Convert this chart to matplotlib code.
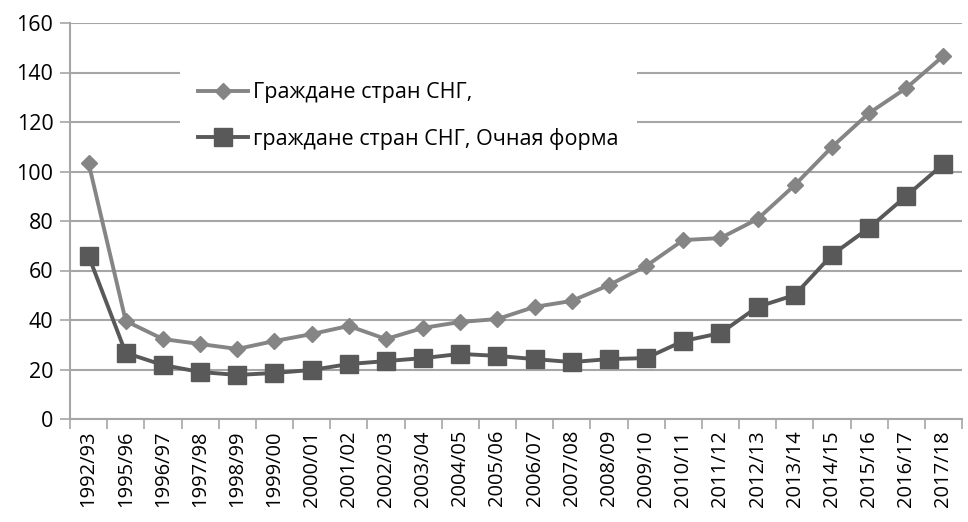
import matplotlib
matplotlib.use('Agg')
import matplotlib.pyplot as plt

years = ['1992/93', '1995/96', '1996/97', '1997/98', '1998/99', '1999/00',
         '2000/01', '2001/02', '2002/03', '2003/04', '2004/05', '2005/06',
         '2006/07', '2007/08', '2008/09', '2009/10', '2010/11', '2011/12',
         '2012/13', '2013/14', '2014/15', '2015/16', '2016/17', '2017/18']
cis_total = [103.4, 39.6, 32.3, 30.3, 28.3, 31.5, 34.3, 37.6, 32.3, 36.8,
             39.2, 40.4, 45.3, 47.7, 54.1, 61.8, 72.3, 73.1, 80.8, 94.5,
             109.9, 123.6, 133.7, 146.7]
cis_fulltime = [65.9, 26.7, 21.8, 19.0, 17.8, 18.6, 19.8, 22.2, 23.4, 24.6,
                26.3, 25.5, 24.2, 23.0, 24.2, 24.6, 31.5, 34.7, 45.3, 50.1,
                66.3, 77.2, 90.1, 103.0]
label_total = 'Граждане стран СНГ,'
label_fulltime = 'граждане стран СНГ, Очная форма'

plt.rcParams['font.family'] = ['Open Sans', 'DejaVu Sans']

fig = plt.figure(figsize=(9.68, 5.22), dpi=100)
ax = fig.add_axes([70/968, 1 - 419/522, 892/968, 396/522])

x = list(range(len(years)))
ax.plot(x, cis_total, color='#858585', lw=2.8, marker='D', ms=8.5,
        label=label_total, zorder=3)
ax.plot(x, cis_fulltime, color='#595959', lw=2.8, marker='s', ms=13,
        label=label_fulltime, zorder=3)

ax.set_ylim(0, 160)
ax.set_yticks(range(0, 161, 20))
ax.set_xlim(-0.5, len(years) - 0.5)
ax.set_xticks(x)
ax.set_xticklabels(years, rotation=90, fontsize=14.5)
ax.set_xticks([i - 0.5 for i in range(len(years) + 1)], minor=True)
ax.tick_params(axis='x', which='major', length=0, pad=8)
ax.tick_params(axis='x', which='minor', length=7, color='#a6a6a6', width=1.2)
ax.tick_params(axis='y', length=7, color='#a6a6a6', width=1.2, labelsize=15.5, pad=5)

ax.yaxis.grid(True, color='#a6a6a6', lw=1.5)
ax.set_axisbelow(True)
for s in ['top', 'right']:
    ax.spines[s].set_visible(False)
for s in ['left', 'bottom']:
    ax.spines[s].set_color('#a6a6a6')
    ax.spines[s].set_linewidth(1.5)

leg = ax.legend(loc='upper left', bbox_to_anchor=(180/968, 1 - 64/522),
                bbox_transform=fig.transFigure, fontsize=15.5, frameon=True,
                facecolor='white', edgecolor='none', framealpha=1,
                handlelength=2.3, handletextpad=0.25, labelspacing=1.14,
                borderpad=0.85, borderaxespad=0, fancybox=False)
leg.set_zorder(4)

plt.savefig('out.png', dpi=100)
